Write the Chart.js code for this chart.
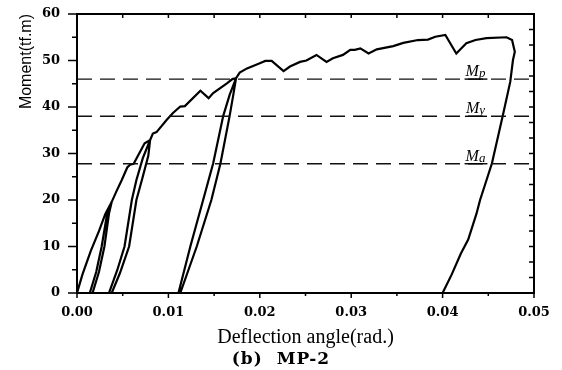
<!DOCTYPE html>
<html>
<head>
<meta charset="utf-8">
<script src="https://cdn.jsdelivr.net/npm/chart.js@4.4.1/dist/chart.umd.min.js"></script>
<style>
  html, body { margin: 0; padding: 0; background: #fff; }
  #wrap { width: 562px; height: 370px; }
</style>
</head>
<body>
<div id="wrap"><canvas id="myChart" width="562" height="370"></canvas></div>
<script>
// deflection angle (rad.) and moment (tf.m) along the loading path
const deflection = [
   0, 0.0006, 0.0015, 0.0024, 0.0031, 0.0038,
   0.0035, 0.0030, 0.0024, 0.0017,
   0.0014, 0.0021, 0.0027, 0.0033, 0.0038,
   0.0043, 0.0049, 0.0055, 0.0058, 0.0062, 0.0068, 0.0074, 0.0080,
   0.0078, 0.0071, 0.0065, 0.0057, 0.0047, 0.0038,
   0.0035, 0.0044, 0.0052, 0.0060, 0.0065, 0.0072, 0.0080,
   0.0083, 0.0087, 0.0098, 0.0105, 0.0113, 0.0118, 0.0135, 0.0144, 0.0149, 0.0164, 0.0170, 0.0174,
   0.0171, 0.0167, 0.0157, 0.0147, 0.0131, 0.0113,
   0.0111, 0.0124, 0.0138, 0.0149, 0.0160, 0.0167, 0.0174,
   0.0178, 0.0186, 0.0200, 0.0206, 0.0213, 0.0226, 0.0233, 0.0244, 0.0251, 0.0262,
   0.0273, 0.0280, 0.0291, 0.0299, 0.0304, 0.0310, 0.0319, 0.0328, 0.0346, 0.0357,
   0.0373, 0.0384, 0.0392, 0.0403, 0.0415, 0.0426, 0.0436, 0.0448, 0.0470, 0.0476,
   0.0479, 0.0477, 0.0474, 0.0466, 0.0454, 0.0441, 0.0437, 0.0428, 0.0420, 0.0410, 0.0400
];
const moment = [
   0, 4.0, 9.0, 13.3, 17.0, 19.6,
   17.1, 10.0, 4.5, 0,
   0, 4.5, 10.0, 17.1, 19.6,
   21.8, 24.3, 27.0, 27.6, 27.8, 30.0, 32.2, 32.9,
   29.5, 24.3, 20.0, 10.0, 4.3, 0,
   0, 4.9, 10.0, 20.0, 24.3, 29.0, 32.9,
   34.3, 34.6, 37.2, 38.7, 40.1, 40.2, 43.5, 41.9, 43.0, 45.1, 46.0, 46.2,
   42.6, 38.1, 27.9, 20.0, 10.0, 0,
   0, 10.0, 20.0, 27.9, 38.1, 42.6, 46.2,
   47.4, 48.3, 49.4, 49.9, 49.9, 47.7, 48.7, 49.7, 50.0, 51.2,
   49.7, 50.5, 51.2, 52.3, 52.3, 52.6, 51.5, 52.4, 53.1, 53.8,
   54.4, 54.5, 55.1, 55.5, 51.5, 53.7, 54.4, 54.8, 55.0, 54.4,
   51.9, 50.1, 45.4, 38.3, 27.9, 20.0, 17.0, 11.5, 8.5, 4.0, 0
];

// reference moment levels
const levelNames = ['p', 'y', 'a'];
const levelValues = [46, 38, 27.8];
const levelLabelX = 0.0436;

const xTicks = [0, 0.01, 0.02, 0.03, 0.04, 0.05];
const yTicks = [0, 10, 20, 30, 40, 50, 60];

const curve = deflection.map((d, i) => ({ x: d, y: moment[i] }));

const levelSets = levelValues.map((v) => ({
   data: [{ x: 0, y: v }, { x: 0.05, y: v }],
   showLine: true,
   borderColor: '#111',
   borderWidth: 1.4,
   borderDash: [15, 8],
   pointRadius: 0,
}));

// box frame, minor ticks, y title, caption and the M labels on the level lines
const frame = {
   id: 'frame',
   afterDatasetsDraw(chart) {
      const { ctx, chartArea: a, scales: { x, y } } = chart;
      ctx.save();
      ctx.strokeStyle = '#000';
      ctx.lineWidth = 2;
      ctx.strokeRect(a.left, a.top, a.right - a.left, a.bottom - a.top);

      ctx.lineWidth = 1.5;
      ctx.beginPath();
      for (let v = 0; v <= 60; v += 5) {
         const py = y.getPixelForValue(v);
         const len = v % 10 === 0 ? 9 : 5;
         ctx.moveTo(a.left - len, py);
         ctx.lineTo(a.left, py);
      }
      for (let k = 0; k <= 18; k++) {
         const py = y.getPixelForValue(k * 10 / 3);
         ctx.moveTo(a.right - 5, py);
         ctx.lineTo(a.right, py);
      }
      for (let k = 0; k <= 10; k++) {
         const px = x.getPixelForValue(k * 0.005);
         const len = k % 2 === 0 ? 5 : 3;
         ctx.moveTo(px, a.bottom);
         ctx.lineTo(px, a.bottom + len);
         ctx.moveTo(px, a.top);
         ctx.lineTo(px, a.top + 4);
      }
      ctx.stroke();

      ctx.fillStyle = '#000';

      // y axis title, read bottom to top, ending level with the top of the frame
      ctx.save();
      ctx.translate(27, a.top);
      ctx.rotate(-Math.PI / 2);
      ctx.font = '16px "Liberation Sans"';
      ctx.textAlign = 'right';
      ctx.textBaseline = 'middle';
      ctx.fillText('Moment(tf.m)', 0, 0);
      ctx.restore();

      // caption under the axis title
      ctx.save();
      ctx.font = 'bold 17px "DejaVu Serif"';
      ctx.letterSpacing = '1px';
      ctx.textAlign = 'center';
      ctx.textBaseline = 'middle';
      ctx.fillText('(b)  MP-2', chart.width / 2, 360);
      ctx.restore();

      levelValues.forEach((v, i) => {
         const py = y.getPixelForValue(v);
         const cx = x.getPixelForValue(levelLabelX);
         ctx.textBaseline = 'alphabetic';
         ctx.font = 'italic 16px "Liberation Serif"';
         const wM = ctx.measureText('M').width;
         ctx.font = 'italic 13px "Liberation Serif"';
         const wS = ctx.measureText(levelNames[i]).width;
         const left = cx - (wM + wS) / 2;
         ctx.font = 'italic 16px "Liberation Serif"';
         ctx.fillText('M', left, py - 3);
         ctx.font = 'italic 13px "Liberation Serif"';
         ctx.fillText(levelNames[i], left + wM, py - 2);
         ctx.lineWidth = 1.4;
         ctx.beginPath();
         ctx.moveTo(left - 1, py);
         ctx.lineTo(left + wM + wS + 2, py);
         ctx.stroke();
      });
      ctx.restore();
   },
};

new Chart(document.getElementById('myChart'), {
   type: 'scatter',
   data: {
      datasets: [
         ...levelSets,
         {
            data: curve,
            showLine: true,
            borderColor: '#000',
            borderWidth: 2.2,
            pointRadius: 0,
            tension: 0,
         },
      ],
   },
   options: {
      responsive: false,
      animation: false,
      devicePixelRatio: 1,
      layout: { padding: { left: 0, right: 28, top: 14, bottom: 20 } },
      plugins: {
         legend: { display: false },
         tooltip: { enabled: false },
      },
      scales: {
         x: {
            type: 'linear',
            min: 0,
            max: 0.05,
            afterBuildTicks: (s) => { s.ticks = xTicks.map((v) => ({ value: v })); },
            afterFit: (s) => {
               s.height = 57;
               s.paddingLeft = 0;
               s.paddingRight = 0;
            },
            grid: { display: false, drawTicks: false },
            border: { display: false },
            ticks: {
               color: '#000',
               padding: 12,
               font: { family: 'DejaVu Serif', size: 13, weight: 'bold' },
               callback: (v) => Number(v).toFixed(2),
            },
            title: {
               display: true,
               text: 'Deflection angle(rad.)',
               color: '#000',
               font: { family: 'Liberation Serif', size: 20 },
               padding: { top: 0, bottom: 0 },
            },
         },
         y: {
            type: 'linear',
            min: 0,
            max: 60,
            afterBuildTicks: (s) => { s.ticks = yTicks.map((v) => ({ value: v })); },
            afterFit: (s) => {
               s.width = 77;
               s.paddingTop = 0;
               s.paddingBottom = 0;
            },
            grid: { display: false, drawTicks: false },
            border: { display: false },
            ticks: {
               color: '#000',
               padding: 17,
               font: { family: 'DejaVu Serif', size: 13, weight: 'bold' },
            },
         },
      },
   },
   plugins: [frame],
});
</script>
</body>
</html>
